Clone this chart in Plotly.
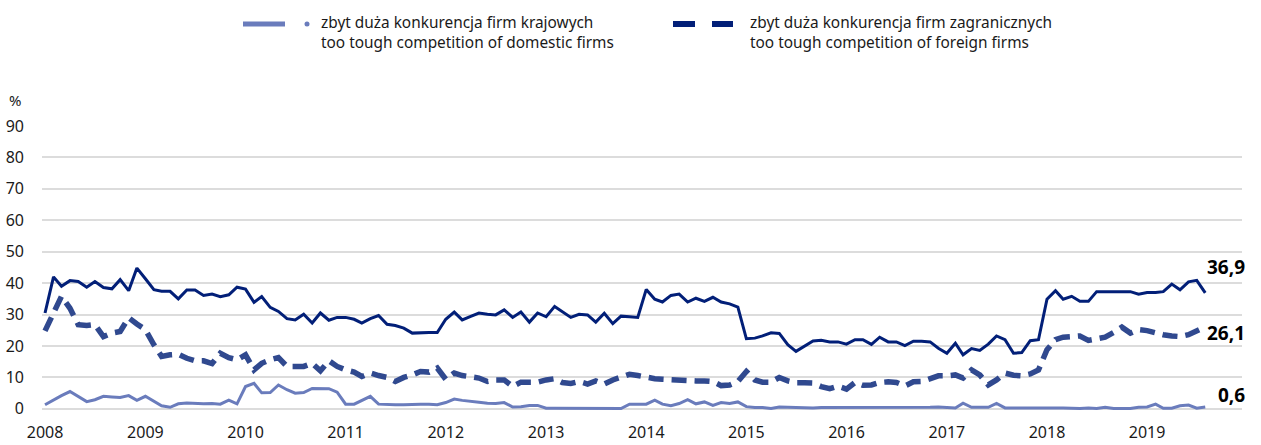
import pandas as pd
import plotly.graph_objects as go

# Monthly survey shares (%), Jan 2008 - Aug 2019
months = pd.date_range("2008-01-01", periods=140, freq="MS")

overall = [
    30.5, 42.0, 39.0, 40.8, 40.5, 38.7, 40.5, 38.6, 38.2, 41.1, 37.6, 44.8,
    41.4, 37.9, 37.4, 37.4, 35.0, 37.8, 37.8, 36.1, 36.5, 35.7, 36.3, 38.7,
    38.1, 33.9, 35.7, 32.3, 31.0, 28.7, 28.3, 30.1, 27.3, 30.5, 28.2, 29.1,
    29.1, 28.5, 27.3, 28.7, 29.7, 26.9, 26.5, 25.7, 24.1, 24.3, 24.3, 24.3,
    28.5, 30.8, 28.3, 29.4, 30.5, 30.1, 29.9, 31.5, 29.1, 30.8, 27.6, 30.5,
    29.3, 32.6, 31.0, 29.1, 30.1, 29.9, 27.6, 30.4, 27.1, 29.5, 29.3, 29.1,
    38.0, 34.9, 34.0, 36.1, 36.5, 34.0, 35.2, 34.2, 35.5, 34.0, 33.4, 32.4,
    22.3, 22.5, 23.2, 24.2, 24.0, 20.4, 18.3, 19.9, 21.6, 21.8, 21.3, 21.3,
    20.6, 22.0, 22.0, 20.5, 22.8, 21.3, 21.3, 20.1, 21.5, 21.5, 21.3, 19.3,
    17.7, 20.9, 17.2, 19.2, 18.6, 20.6, 23.2, 22.0, 17.7, 17.9, 21.7, 22.0,
    34.9, 37.6, 34.9, 35.8, 34.2, 34.2, 37.3, 37.3, 37.3, 37.5, 37.3, 36.5,
    37.0, 37.0, 37.3, 39.7, 37.9, 40.4, 40.9, 36.9,
]

foreign_firms = [
    24.8, 31.0, 35.8, 32.0, 26.8, 26.5, 26.8, 23.0, 24.1, 24.6, 29.0, 27.0,
    25.2, 20.4, 16.7, 17.2, 17.4, 16.1, 15.3, 15.3, 14.4, 17.7, 16.3, 15.6,
    17.2, 12.4, 14.5, 15.6, 16.3, 13.5, 13.5, 13.5, 14.5, 12.1, 15.3, 13.5,
    12.4, 11.7, 10.3, 11.4, 10.6, 10.0, 8.7, 10.0, 10.8, 11.9, 11.7, 13.0,
    9.4, 11.4, 10.6, 10.0, 9.8, 8.7, 9.2, 9.2, 7.1, 8.5, 8.7, 8.5,
    9.2, 9.6, 8.4, 8.1, 8.7, 7.9, 8.9, 7.9, 9.2, 10.0, 11.0, 10.6,
    10.0, 9.6, 9.4, 9.2, 8.9, 8.9, 8.9, 8.9, 8.7, 7.4, 7.6, 8.7,
    11.9, 9.2, 8.5, 8.5, 10.0, 8.9, 8.3, 8.3, 8.2, 7.1, 6.4, 7.2,
    6.3, 8.4, 7.5, 7.6, 8.4, 8.6, 8.4, 7.3, 8.6, 8.7, 9.4, 10.5,
    10.5, 10.8, 9.8, 12.4, 10.8, 7.6, 9.2, 11.4, 10.7, 10.5, 11.1, 12.4,
    18.8, 22.0, 22.8, 22.8, 23.2, 21.8, 22.5, 22.8, 24.3, 26.0, 24.1, 25.2,
    24.9, 24.1, 23.6, 23.2, 23.0, 23.6, 24.9, 26.1,
]

domestic_firms = [
    1.3, 2.9, 4.2, 5.5, 3.9, 2.3, 2.9, 4.0, 3.8, 3.6, 4.2, 2.7,
    4.0, 2.3, 1.0, 0.5, 1.6, 1.9, 1.7, 1.6, 1.7, 1.5, 2.8, 1.6,
    7.1, 8.1, 5.1, 5.2, 7.6, 6.1, 5.0, 5.2, 6.5, 6.5, 6.4, 5.3,
    1.5, 1.5, 2.7, 4.0, 1.5, 1.3, 1.3, 1.3, 1.5, 1.5, 1.5, 1.3,
    2.0, 3.1, 2.7, 2.3, 2.1, 1.8, 1.7, 2.0, 0.6, 0.7, 1.1, 1.1,
    0.2, 0.2, 0.2, 0.2, 0.2, 0.2, 0.2, 0.2, 0.1, 0.1, 1.5, 1.5,
    1.5, 2.8, 1.5, 1.0, 1.7, 2.9, 1.6, 2.2, 1.1, 2.0, 1.7, 2.2,
    0.7, 0.4, 0.4, 0.1, 0.6, 0.5, 0.4, 0.3, 0.3, 0.4, 0.4, 0.4,
    0.3, 0.3, 0.4, 0.4, 0.3, 0.4, 0.4, 0.3, 0.4, 0.4, 0.5, 0.6,
    0.5, 0.3, 1.8, 0.5, 0.5, 0.5, 1.7, 0.3, 0.3, 0.3, 0.3, 0.4,
    0.4, 0.5, 0.3, 0.2, 0.1, 0.3, 0.1, 0.5, 0.1, 0.1, 0.1, 0.5,
    0.6, 1.5, 0.2, 0.2, 1.0, 1.2, 0.2, 0.6,
]

y_ticks = [0, 10, 20, 30, 40, 50, 60, 70, 80, 90]

legend_domestic = "zbyt duża konkurencja firm krajowych<br>too tough competition of domestic firms"
legend_foreign = "zbyt duża konkurencja firm zagranicznych<br>too tough competition of foreign firms"

NAVY = "#021f78"
MID = "#30498f"
LIGHT = "#6a7cbc"
FONT = "Noto Sans"
TEXT = "#1a1a1a"

W, H = 1261, 445
L, R, T, B = 42, 19, 126, 33
PW, PH = W - L - R, H - T - B


def px_x(p):
    return (p - L) / PW


def px_y(p):
    return (H - B - p) / PH


fig = go.Figure()
fig.add_trace(go.Scatter(x=months, y=domestic_firms, mode="lines",
                         line=dict(color=LIGHT, width=3), showlegend=False))
fig.add_trace(go.Scatter(x=months, y=foreign_firms, mode="lines",
                         line=dict(color=MID, width=5.5, dash="15px,8px"), showlegend=False))
fig.add_trace(go.Scatter(x=months, y=overall, mode="lines",
                         line=dict(color=NAVY, width=3), showlegend=False))

shapes = [
    # legend glyph: light solid segment with dot
    dict(type="line", xref="paper", yref="paper", x0=px_x(243), x1=px_x(285),
         y0=px_y(24), y1=px_y(24), line=dict(color=LIGHT, width=5)),
    dict(type="circle", xref="paper", yref="paper", x0=px_x(304.5), x1=px_x(309.5),
         y0=px_y(26.5), y1=px_y(21.5), fillcolor=LIGHT, line=dict(width=0)),
    # legend glyph: dashed navy
    dict(type="line", xref="paper", yref="paper", x0=px_x(673), x1=px_x(695),
         y0=px_y(24), y1=px_y(24), line=dict(color=NAVY, width=6)),
    dict(type="line", xref="paper", yref="paper", x0=px_x(712), x1=px_x(733),
         y0=px_y(24), y1=px_y(24), line=dict(color=NAVY, width=6)),
]

annotations = [
    dict(text=legend_domestic, xref="paper", yref="paper", x=px_x(319), y=px_y(33),
         xanchor="left", yanchor="middle", align="left", showarrow=False,
         font=dict(family=FONT, size=15.4, color=TEXT)),
    dict(text=legend_foreign, xref="paper", yref="paper", x=px_x(748), y=px_y(33),
         xanchor="left", yanchor="middle", align="left", showarrow=False,
         font=dict(family=FONT, size=15.4, color=TEXT)),
    dict(text="%", xref="paper", yref="paper", x=px_x(15), y=px_y(100),
         xanchor="center", yanchor="middle", showarrow=False,
         font=dict(family=FONT, size=15, color=TEXT)),
]


def fmt(v):
    return f"{v:.1f}".replace(".", ",")


for series, dy in ((overall, 8.1), (foreign_firms, -1.9), (domestic_firms, 3.9)):
    annotations.append(dict(
        text=f"<b>{fmt(series[-1])}</b>", xref="paper", yref="y",
        x=px_x(1247), y=series[-1] + dy, xanchor="right", yanchor="middle",
        showarrow=False, font=dict(family=FONT, size=19, color="#000000")))

fig.update_layout(
    width=W, height=H,
    margin=dict(l=L, r=R, t=T, b=B, pad=0, autoexpand=False),
    paper_bgcolor="white", plot_bgcolor="white",
    font=dict(family=FONT, size=15, color=TEXT),
    shapes=shapes, annotations=annotations,
    showlegend=False,
)
fig.update_xaxes(
    type="date", automargin=False,
    range=["2007-12-21", "2019-12-13"],
    dtick="M12", tick0="2008-01-01", tickformat="%Y",
    showgrid=False, zeroline=False, showline=False,
    ticks="", ticklabelstandoff=9,
    tickfont=dict(family=FONT, size=16, color=TEXT),
)
fig.update_yaxes(
    automargin=False,
    range=[-1, 90], tickvals=y_ticks,
    showgrid=True, gridcolor="#dcdcdc", gridwidth=1.5,
    zeroline=False, showline=False, ticks="", ticklabelstandoff=17,
    tickfont=dict(family=FONT, size=16, color=TEXT),
)

fig.write_html("out.html")
